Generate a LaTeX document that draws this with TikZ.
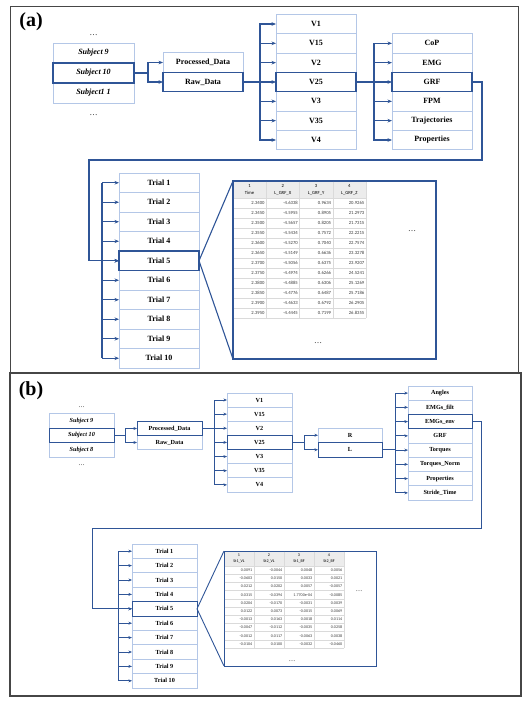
\documentclass[tikz,border=0pt]{standalone}
\usepackage{fontspec}
\setmainfont{Liberation Serif}
\newfontfamily\tabfont{Carlito}
\usetikzlibrary{arrows.meta}
\definecolor{dkblue}{RGB}{47,85,151}
\definecolor{ltblue}{RGB}{180,199,231}
\definecolor{hdgray}{RGB}{236,236,236}
\definecolor{gridgray}{RGB}{218,218,218}
\definecolor{cellfg}{RGB}{60,60,60}
\definecolor{framegray}{RGB}{70,70,70}

\begin{document}
\begin{tikzpicture}[x=1pt,y=-1pt,
  boxa/.style={draw=ltblue,line width=0.9pt,inner sep=0pt,outer sep=0pt,minimum width=80pt,minimum height=19.4pt,font=\bfseries\fontsize{8}{9}\selectfont},
  hiboxa/.style={boxa,draw=dkblue,line width=1.1pt},
  boxb/.style={draw=ltblue,line width=0.8pt,inner sep=0pt,outer sep=0pt,minimum width=65pt,minimum height=14.3pt,font=\bfseries\fontsize{6.2}{7}\selectfont},
  hiboxb/.style={boxb,draw=dkblue,line width=1pt},
  linka/.style={draw=dkblue,line width=1.1pt},
  arra/.style={linka,-{Stealth[length=4.5pt,width=3.6pt]}},
  linkb/.style={draw=dkblue,line width=0.9pt},
  arrb/.style={linkb,-{Stealth[length=3.6pt,width=3pt]}},
  tabframe/.style={draw=dkblue,line width=1.1pt,inner sep=0pt,outer sep=0pt},
  cella/.style={font=\tabfont\fontsize{4.7}{5}\selectfont,text=cellfg,inner sep=0pt},
  cellb/.style={font=\tabfont\fontsize{4.1}{4.5}\selectfont,text=cellfg,inner sep=0pt},
  dotsa/.style={font=\fontsize{8}{9}\selectfont,inner sep=0pt},
  dotsb/.style={font=\fontsize{6.5}{7}\selectfont,inner sep=0pt},
  panel/.style={font=\bfseries\fontsize{20}{22}\selectfont,inner sep=0pt}]
\useasboundingbox (0,0) rectangle (529,703);

% panel frames
\draw[framegray,line width=1pt] (10,7) rectangle (518,373);
\draw[framegray,line width=1.2pt] (10,373) rectangle (521,696);
\node[panel] (label-a) at (31,22) {(a)};
\node[panel] (label-b) at (31,391) {(b)};

%%% (a) GRF data
\node[dotsa] (dots-a-1) at (93.5,35) {…};
\node[boxa,minimum width=81pt,minimum height=20pt,font=\bfseries\itshape\fontsize{8}{9}\selectfont] (subj-a-9) at (93.5,53) {Subject 9};
\node[boxa,minimum width=81pt,minimum height=20pt,font=\bfseries\itshape\fontsize{8}{9}\selectfont] (subj-a-11) at (93.5,93) {Subject1 1};
\node[hiboxa,minimum width=81pt,minimum height=20pt,font=\bfseries\itshape\fontsize{8}{9}\selectfont] (subj-a-10) at (93.5,73) {Subject 10};
\node[dotsa] (dots-a-2) at (93.5,115) {…};

\node[boxa,minimum height=19.5pt] (proc-a) at (203,62.5) {Processed\_Data};
\node[hiboxa,minimum height=19.5pt] (raw-a) at (203,82) {Raw\_Data};

\node[boxa] (v-a-1) at (316,24) {V1};
\node[boxa] (v-a-15) at (316,43.33) {V15};
\node[boxa] (v-a-2) at (316,62.67) {V2};
\node[boxa] (v-a-3) at (316,101.33) {V3};
\node[boxa] (v-a-35) at (316,120.67) {V35};
\node[boxa] (v-a-4) at (316,140) {V4};
\node[hiboxa] (v-a-25) at (316,82) {V25};

\node[boxa] (cop-a) at (432,43.33) {CoP};
\node[boxa] (emg-a) at (432,62.67) {EMG};
\node[boxa] (fpm-a) at (432,101.33) {FPM};
\node[boxa] (traj-a) at (432,120.67) {Trajectories};
\node[boxa] (prop-a) at (432,140) {Properties};
\node[hiboxa] (grf-a) at (432,82) {GRF};

\foreach \i in {1,2,3,4,6,7,8,9,10}
  \node[boxa,minimum height=19.5pt] (trial-a-\i) at (159,{163.25+19.5*\i}) {Trial \i};
\node[hiboxa,minimum height=19.5pt] (trial-a-5) at (159,260.75) {Trial 5};

\draw[arra] (subj-a-10.east) -- ++(14,0) |- (proc-a.west);
\draw[arra] (subj-a-10.east) -- ++(14,0) |- (raw-a.west);
\foreach \n in {v-a-1,v-a-15,v-a-2,v-a-25,v-a-3,v-a-35,v-a-4}
  \draw[arra] (raw-a.east) -- ++(17,0) |- (\n.west);
\foreach \n in {cop-a,emg-a,grf-a,fpm-a,traj-a,prop-a}
  \draw[arra] (v-a-25.east) -- ++(18,0) |- (\n.west);

\coordinate (loop-a) at (89,160);
\coordinate (bus-a) at (102,0);
\draw[arra] (grf-a.east) -- ++(10,0) |- (loop-a) |- (trial-a-5.west);
\draw[linka] (bus-a |- trial-a-1.west) -- (bus-a |- trial-a-10.west);
\foreach \i in {1,...,10}
  \draw[arra] (bus-a |- trial-a-\i.west) -- (trial-a-\i.west);

\node[tabframe,minimum width=203pt,minimum height=178pt] (tab-a) at (334.5,270) {};
\draw[linka] (tab-a.north west) -- (trial-a-5.east) -- (tab-a.south west);
\begin{scope}[shift={(tab-a.north west)}]
  \fill[hdgray] (0.6,0.6) rectangle (133,17);
  \foreach \k in {0,...,12} \draw[gridgray,line width=0.4pt] (0.6,{17+10*\k}) -- (133,{17+10*\k});
  \foreach \k in {1,...,4} \draw[gridgray,line width=0.4pt] ({33.25*\k},0.6) -- ({33.25*\k},137);
  \foreach \c/\num/\name in {0/1/Time,1/2/L\_GRF\_X,2/3/L\_GRF\_Y,3/4/L\_GRF\_Z} {
    \node[cella,text=black] at ({33.25*\c+16.6},5) {\num};
    \node[cella,text=black] at ({33.25*\c+16.6},12) {\name};
  }
  \foreach \r/\a/\b/\c/\d in {1/2.3400/-4.6338/0.9634/20.9265,
      2/2.3450/-4.5955/0.8905/21.2973, 3/2.3500/-4.5657/0.8205/21.7315,
      4/2.3550/-4.5434/0.7572/22.2215, 5/2.3600/-4.5270/0.7040/22.7574,
      6/2.3650/-4.5149/0.6636/23.3278, 7/2.3700/-4.5056/0.6375/23.9207,
      8/2.3750/-4.4974/0.6266/24.5241, 9/2.3800/-4.4885/0.6306/25.1269,
      10/2.3850/-4.4776/0.6487/25.7186, 11/2.3900/-4.4633/0.6792/26.2905,
      12/2.3950/-4.4445/0.7199/26.8355} {
    \node[cella,anchor=east] at (31.75,{12+10*\r}) {\a};
    \node[cella,anchor=east] at (65,{12+10*\r}) {\b};
    \node[cella,anchor=east] at (98.25,{12+10*\r}) {\c};
    \node[cella,anchor=east] at (131.5,{12+10*\r}) {\d};
  }
  \node[dotsa] (dots-a-3) at (179,50) {…};
  \node[dotsa] (dots-a-4) at (85,162) {…};
\end{scope}

%%% (b) EMG data
\node[dotsb] (dots-b-1) at (81.5,407) {…};
\node[boxb,minimum height=14.5pt,font=\bfseries\itshape\fontsize{6.2}{7}\selectfont] (subj-b-9) at (81.5,420.75) {Subject 9};
\node[boxb,minimum height=14.5pt,font=\bfseries\itshape\fontsize{6.2}{7}\selectfont] (subj-b-8) at (81.5,449.75) {Subject 8};
\node[hiboxb,minimum height=14.5pt,font=\bfseries\itshape\fontsize{6.2}{7}\selectfont] (subj-b-10) at (81.5,435.25) {Subject 10};
\node[dotsb] (dots-b-2) at (81.5,465) {…};

\node[boxb,minimum height=14pt] (raw-b) at (169.5,442.5) {Raw\_Data};
\node[hiboxb,minimum height=14pt] (proc-b) at (169.5,428.5) {Processed\_Data};

\node[boxb,minimum height=14.14pt] (v-b-1) at (259.5,400) {V1};
\node[boxb,minimum height=14.14pt] (v-b-15) at (259.5,414.14) {V15};
\node[boxb,minimum height=14.14pt] (v-b-2) at (259.5,428.28) {V2};
\node[boxb,minimum height=14.14pt] (v-b-3) at (259.5,456.56) {V3};
\node[boxb,minimum height=14.14pt] (v-b-35) at (259.5,470.7) {V35};
\node[boxb,minimum height=14.14pt] (v-b-4) at (259.5,484.84) {V4};
\node[hiboxb,minimum height=14.14pt] (v-b-25) at (259.5,442.42) {V25};

\node[boxb,minimum width=64pt,minimum height=14.5pt] (r-b) at (350,435.25) {R};
\node[hiboxb,minimum width=64pt,minimum height=14.5pt] (l-b) at (350,449.75) {L};

\node[boxb,minimum width=64pt,minimum height=14.25pt] (ang-b) at (440,393.1) {Angles};
\node[boxb,minimum width=64pt,minimum height=14.25pt] (filt-b) at (440,407.35) {EMGs\_filt};
\node[boxb,minimum width=64pt,minimum height=14.25pt] (grf-b) at (440,435.85) {GRF};
\node[boxb,minimum width=64pt,minimum height=14.25pt] (torq-b) at (440,450.1) {Torques};
\node[boxb,minimum width=64pt,minimum height=14.25pt] (norm-b) at (440,464.35) {Torques\_Norm};
\node[boxb,minimum width=64pt,minimum height=14.25pt] (prop-b) at (440,478.6) {Properties};
\node[boxb,minimum width=64pt,minimum height=14.25pt] (stride-b) at (440,492.85) {Stride\_Time};
\node[hiboxb,minimum width=64pt,minimum height=14.25pt] (env-b) at (440,421.6) {EMGs\_env};

\foreach \i in {1,2,3,4,6,7,8,9,10}
  \node[boxb,minimum height=14.4pt] (trial-b-\i) at (164.5,{536.8+14.4*\i}) {Trial \i};
\node[hiboxb,minimum height=14.4pt] (trial-b-5) at (164.5,608.8) {Trial 5};

\draw[arrb] (subj-b-10.east) -- ++(11,0) |- (proc-b.west);
\draw[arrb] (subj-b-10.east) -- ++(11,0) |- (raw-b.west);
\foreach \n in {v-b-1,v-b-15,v-b-2,v-b-25,v-b-3,v-b-35,v-b-4}
  \draw[arrb] (proc-b.east) -- ++(12,0) |- (\n.west);
\draw[arrb] (v-b-25.east) -- ++(12,0) |- (r-b.west);
\draw[arrb] (v-b-25.east) -- ++(12,0) |- (l-b.west);
\foreach \n in {ang-b,filt-b,env-b,grf-b,torq-b,norm-b,prop-b,stride-b}
  \draw[arrb] (l-b.east) -- ++(13,0) |- (\n.west);

\coordinate (loop-b) at (92,528);
\coordinate (bus-b) at (118,0);
\draw[arrb] (env-b.east) -- ++(9,0) |- (loop-b) |- (trial-b-5.west);
\draw[linkb] (bus-b |- trial-b-1.west) -- (bus-b |- trial-b-10.west);
\foreach \i in {1,...,10}
  \draw[arrb] (bus-b |- trial-b-\i.west) -- (trial-b-\i.west);

\node[tabframe,line width=1pt,minimum width=152pt,minimum height=115pt] (tab-b) at (300,608.5) {};
\draw[linkb] (tab-b.north west) -- (trial-b-5.east) -- (tab-b.south west);
\begin{scope}[shift={(tab-b.north west)}]
  \fill[hdgray] (0.5,0.5) rectangle (120,15);
  \foreach \k in {0,...,10} \draw[gridgray,line width=0.35pt] (0.5,{15+8.2*\k}) -- (120,{15+8.2*\k});
  \foreach \k in {1,...,4} \draw[gridgray,line width=0.35pt] ({30*\k},0.5) -- ({30*\k},97);
  \foreach \c/\num/\name in {0/1/St1\_VL,1/2/St2\_VL,2/3/St1\_BF,3/4/St2\_BF} {
    \node[cellb,text=black] at ({30*\c+15},4.5) {\num};
    \node[cellb,text=black] at ({30*\c+15},10.5) {\name};
  }
  \foreach \r/\a/\b/\c/\d in {1/0.0091/-0.0044/0.0048/0.0056,
      2/-0.0603/0.0150/0.0033/0.0021, 3/0.0212/0.0202/0.0057/-0.0057,
      4/0.0315/-0.0394/1.7700e-04/-0.0085, 5/0.0204/-0.0170/-0.0031/0.0039,
      6/0.0122/0.0073/-0.0015/0.0069, 7/-0.0013/0.0163/0.0018/0.0114,
      8/-0.0047/-0.0112/-0.0035/0.0258, 9/-0.0012/0.0117/-0.0063/0.0038,
      10/-0.0104/0.0100/-0.0032/-0.0460} {
    \node[cellb,anchor=east] at (28.5,{10.9+8.2*\r}) {\a};
    \node[cellb,anchor=east] at (58.5,{10.9+8.2*\r}) {\b};
    \node[cellb,anchor=east] at (88.5,{10.9+8.2*\r}) {\c};
    \node[cellb,anchor=east] at (118.5,{10.9+8.2*\r}) {\d};
  }
  \node[dotsb] (dots-b-3) at (135,40) {…};
  \node[dotsb] (dots-b-4) at (68,110) {…};
\end{scope}
\end{tikzpicture}
\end{document}
